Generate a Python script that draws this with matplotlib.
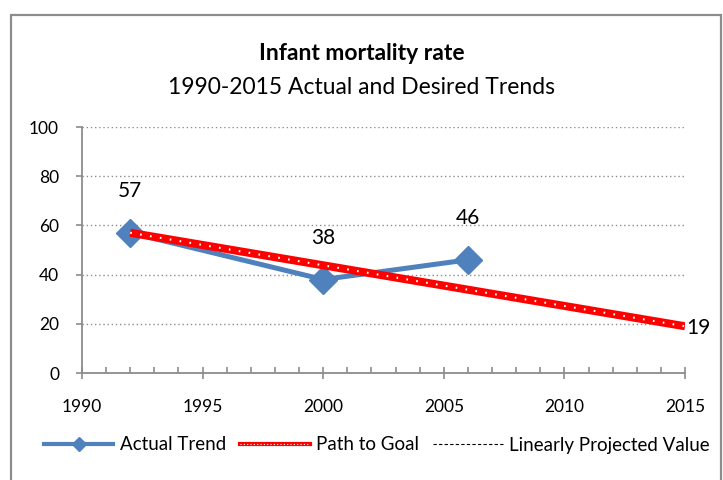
import matplotlib.pyplot as plt
from matplotlib.lines import Line2D
from matplotlib.patches import Rectangle
from matplotlib.ticker import MultipleLocator

plt.rcParams['font.family'] = ['Lato', 'DejaVu Sans']

# data
actual_years = [1992, 2000, 2006]
actual_values = [57, 38, 46]
goal_years = [1992, 2015]
goal_values = [57, 19]

W, H = 723, 480
fig = plt.figure(figsize=(W / 100, H / 100), dpi=100)
ax = fig.add_axes([82 / W, 1 - 373 / H, (685 - 82) / W, (373 - 127) / H])

# outer frame
fig.patches.append(Rectangle((11 / W, -0.05), 710 / W, 1 - 15 / H + 0.05,
                             transform=fig.transFigure, fill=False,
                             edgecolor='#8c8c8c', linewidth=1.6))

# actual trend
ax.plot(actual_years, actual_values, color='#4f81bd', linewidth=3.6,
        marker='D', markersize=14, zorder=3)
# path to goal: red with white dots
ax.plot(goal_years, goal_values, color='#ff0000', linewidth=5.8,
        solid_capstyle='butt', zorder=4)
ax.plot(goal_years, goal_values, color='white', linewidth=1.5,
        linestyle=(0, (0.8, 4.0)), zorder=5)

for x, y in zip(actual_years, actual_values):
    ax.annotate(str(y), (x, y), xytext=(0, 30), textcoords='offset points',
                ha='center', va='center', fontsize=15)
ax.annotate(str(goal_values[1]), (goal_years[1], goal_values[1]), xytext=(1, -1),
            textcoords='offset points', ha='left', va='center', fontsize=15)

ax.set_xlim(1990, 2015)
ax.set_ylim(0, 100)
ax.set_xticks([1990, 1995, 2000, 2005, 2010, 2015])
ax.set_yticks([0, 20, 40, 60, 80, 100])
ax.xaxis.set_minor_locator(MultipleLocator(1))
ax.yaxis.grid(True, linestyle=(0, (1, 2)), color='#8c8c8c', linewidth=1)
ax.set_axisbelow(True)
for s in ['top', 'right']:
    ax.spines[s].set_visible(False)
for s in ['left', 'bottom']:
    ax.spines[s].set_color('#8c8c8c')
    ax.spines[s].set_linewidth(1.3)
ax.tick_params(axis='y', direction='out', length=4.5, width=1.2, color='#8c8c8c',
               labelsize=12.5, pad=12)
ax.tick_params(axis='x', which='major', direction='inout', length=9, width=1.2,
               color='#8c8c8c', labelsize=12.5, pad=14)
ax.tick_params(axis='x', which='minor', direction='in', length=4.5, width=1.2,
               color='#8c8c8c')

fig.text(0.5, 1 - 53 / H, 'Infant mortality rate', ha='center', va='center',
         fontsize=16.5, fontweight='bold')
fig.text(0.5, 1 - 87 / H, '1990-2015 Actual and Desired Trends', ha='center',
         va='center', fontsize=16.5)

handles = [
    Line2D([], [], color='#4f81bd', linewidth=3, marker='D', markersize=7),
    (Line2D([], [], color='#ff0000', linewidth=3),
     Line2D([], [], color='white', linewidth=0.8, linestyle=(0, (1, 2)))),
    Line2D([], [], color='black', linewidth=0.8, linestyle=(0, (3, 2))),
]
fig.legend(handles, ['Actual Trend', 'Path to Goal', 'Linearly Projected Value'],
           loc='center', bbox_to_anchor=(377 / W, 1 - 445 / H), ncol=3, frameon=False,
           fontsize=13.5, handlelength=3.7, columnspacing=0.75, handletextpad=0.35,
           borderpad=0, borderaxespad=0)

fig.savefig('out.png', dpi=100)
